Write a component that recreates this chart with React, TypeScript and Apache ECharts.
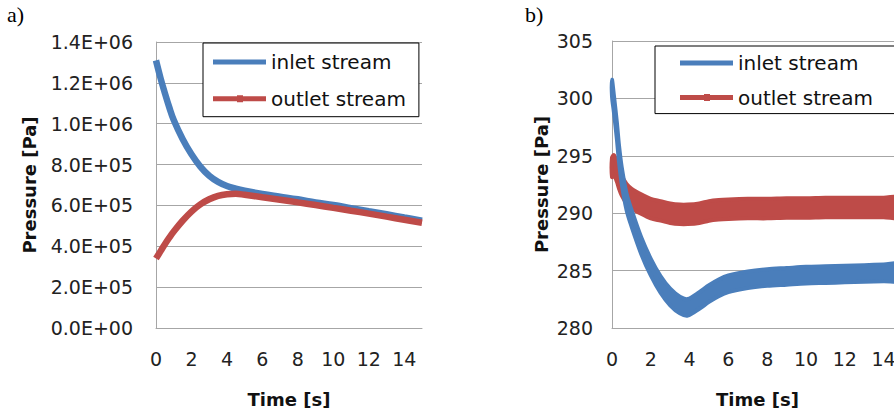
import React, { useEffect, useRef } from "react";
import * as echarts from "echarts";

// ---- chart a) ----
const timeA = [0, 0.25, 0.5, 0.75, 1, 1.5, 2, 2.5, 3, 3.5, 4, 4.5, 5, 6, 7, 8, 9, 10, 11, 12, 13, 14, 15];
const inletA = [1.31e6, 1.225e6, 1.15e6, 1.08e6, 1.018e6, 9.25e5, 8.5e5, 7.9e5, 7.45e5, 7.15e5, 6.95e5, 6.82e5, 6.72e5, 6.56e5, 6.43e5, 6.3e5, 6.15e5, 6.02e5, 5.87e5, 5.72e5, 5.57e5, 5.41e5, 5.25e5];
const outletA = [3.4e5, 3.75e5, 4.1e5, 4.42e5, 4.72e5, 5.25e5, 5.7e5, 6.05e5, 6.3e5, 6.47e5, 6.55e5, 6.57e5, 6.52e5, 6.4e5, 6.28e5, 6.15e5, 6.02e5, 5.88e5, 5.74e5, 5.6e5, 5.45e5, 5.3e5, 5.15e5];

// ---- chart b) ----
const timeB = [0, 0.1, 0.25, 0.36, 0.5, 0.75, 1, 1.5, 2, 2.5, 3, 3.5, 3.9, 4.5, 5, 5.5, 6, 7, 8, 9, 10, 11, 12, 13, 14, 15];
const inletB = [300.9, 299.5, 297.2, 295.2, 293.3, 291.0, 289.6, 287.2, 285.3, 283.8, 282.7, 282.0, 281.8, 282.4, 283.0, 283.5, 283.85, 284.2, 284.4, 284.5, 284.6, 284.65, 284.7, 284.75, 284.8, 284.85];
const outletB = [294.0, 294.2, 293.6, 293.0, 292.4, 291.7, 291.3, 290.8, 290.4, 290.2, 290.0, 289.9, 289.9, 290.0, 290.2, 290.3, 290.35, 290.4, 290.4, 290.45, 290.45, 290.5, 290.5, 290.5, 290.5, 290.5];
// fluctuation band width (Pa) of the noisy signals in b)
const inletBandB = 1.45;
const outletBandB = 1.7;

const seriesNames = ["inlet stream", "outlet stream"];
const xTitle = "Time [s]";
const yTitle = "Pressure [Pa]";
const panelLabels = ["a)", "b)"];

const BLUE = "#4a7ebb";
const RED = "#be4b48";
const GRID = "#a6a6a6";
const FONT = "DejaVu Sans";

function sciLabel(v: number): string {
  if (v === 0) return "0.0E+00";
  const e = Math.floor(Math.log10(Math.abs(v)) + 1e-9);
  const m = v / Math.pow(10, e);
  const sign = e < 0 ? "-" : "+";
  return m.toFixed(1) + "E" + sign + String(Math.abs(e)).padStart(2, "0");
}

export default function App() {
  const ref = useRef<HTMLDivElement>(null);
  useEffect(() => {
    if (!ref.current) return;
    const chart = echarts.init(ref.current, undefined, { renderer: "svg" });

    const pairs = (t: number[], v: number[]) => t.map((x, i) => [x, v[i]]);

    const bandSeries = (name: string, t: number[], v: number[], w: number, color: string) => ({
      name,
      type: "custom",
      xAxisIndex: 1,
      yAxisIndex: 1,
      data: pairs(t, v),
      encode: { x: 0, y: 1 },
      clip: false,
      silent: true,
      renderItem: (params: any, api: any) => {
        if (params.dataIndex !== 0) return null;
        const up = t.map((x, i) => api.coord([x, v[i] + w / 2]));
        const lo = t.map((x, i) => api.coord([x, v[i] - w / 2])).reverse();
        return {
          type: "polygon",
          shape: { points: up.concat(lo), smooth: 0.3 },
          style: { fill: color, stroke: color, lineWidth: 4, lineJoin: "round" },
        };
      },
    });

    const xAxisBase = (gridIndex: number) => ({
      type: "value" as const,
      gridIndex,
      min: 0,
      max: 15,
      interval: 2,
      axisLine: { show: true, lineStyle: { color: GRID, width: 1 } },
      axisTick: { show: false },
      splitLine: { show: false },
      axisLabel: { fontFamily: FONT, fontSize: 19, color: "#222", margin: 21, showMaxLabel: false },
      name: xTitle,
      nameLocation: "middle" as const,
      nameGap: 62,
      nameTextStyle: { fontFamily: FONT, fontSize: 18, fontWeight: "bold", color: "#111" },
    });

    const legendData = [
      { name: seriesNames[0], icon: "path://M0,1h53v5h-53z", itemStyle: { color: BLUE } },
      { name: seriesNames[1], icon: "path://M0,1h53v5h-53z M24,0h6v7h-6z", itemStyle: { color: RED } },
    ];
    const legendBase = {
      orient: "vertical" as const,
      itemWidth: 53,
      itemHeight: 20,
      borderColor: "#000",
      borderWidth: 1,
      backgroundColor: "#fff",
      borderRadius: 0,
      textStyle: { fontFamily: FONT, fontSize: 20, color: "#111" },
      data: legendData,
      selectedMode: false,
    };

    chart.setOption({
      animation: false,
      backgroundColor: "#fff",
      grid: [
        { left: 156, top: 42, width: 266, height: 286, outerBoundsMode: "none" },
        { left: 612, top: 41, width: 291, height: 287, outerBoundsMode: "none" },
      ],
      xAxis: [xAxisBase(0), xAxisBase(1)],
      yAxis: [
        {
          type: "value",
          gridIndex: 0,
          min: 0,
          max: 1.4e6,
          interval: 2e5,
          axisLine: { show: true, lineStyle: { color: GRID, width: 1 } },
          axisTick: { show: false },
          splitLine: { show: true, lineStyle: { color: GRID, width: 1 } },
          axisLabel: { fontFamily: FONT, fontSize: 19, color: "#222", margin: 23, formatter: sciLabel },
          name: yTitle,
          nameLocation: "middle",
          nameGap: 118,
          nameTextStyle: { fontFamily: FONT, fontSize: 18, fontWeight: "bold", color: "#111" },
        },
        {
          type: "value",
          gridIndex: 1,
          min: 280,
          max: 305,
          interval: 5,
          axisLine: { show: true, lineStyle: { color: GRID, width: 1 } },
          axisTick: { show: false },
          splitLine: { show: true, lineStyle: { color: GRID, width: 1 } },
          axisLabel: { fontFamily: FONT, fontSize: 19, color: "#222", margin: 19 },
          name: yTitle,
          nameLocation: "middle",
          nameGap: 62,
          nameTextStyle: { fontFamily: FONT, fontSize: 18, fontWeight: "bold", color: "#111" },
        },
      ],
      legend: [
        { ...legendBase, left: 203, top: 43, padding: [9, 13, 8, 10], itemGap: 16.7 },
        { ...legendBase, left: 655, top: 46, padding: [7, 24, 6, 25], itemGap: 14.6 },
      ],
      graphic: [
        { type: "text", left: 7, top: 3, style: { text: panelLabels[0], font: '22px "Liberation Serif"', fill: "#000" } },
        { type: "text", left: 525, top: 3, style: { text: panelLabels[1], font: '22px "Liberation Serif"', fill: "#000" } },
      ],
      series: [
        {
          name: seriesNames[0],
          type: "line",
          xAxisIndex: 0,
          yAxisIndex: 0,
          data: pairs(timeA, inletA),
          smooth: 0.4,
          symbol: "none",
          clip: false,
          lineStyle: { color: BLUE, width: 6.5 },
          itemStyle: { color: BLUE },
        },
        {
          name: seriesNames[1],
          type: "line",
          xAxisIndex: 0,
          yAxisIndex: 0,
          data: pairs(timeA, outletA),
          smooth: 0.4,
          symbol: "none",
          clip: false,
          lineStyle: { color: RED, width: 6.5 },
          itemStyle: { color: RED },
        },
        bandSeries(seriesNames[1], timeB, outletB, outletBandB, RED),
        bandSeries(seriesNames[0], timeB, inletB, inletBandB, BLUE),
      ],
    });

    return () => chart.dispose();
  }, []);

  return (
    <div
      ref={ref}
      style={{ position: "fixed", left: 0, top: 0, width: 910, height: 414, background: "#fff" }}
    />
  );
}
